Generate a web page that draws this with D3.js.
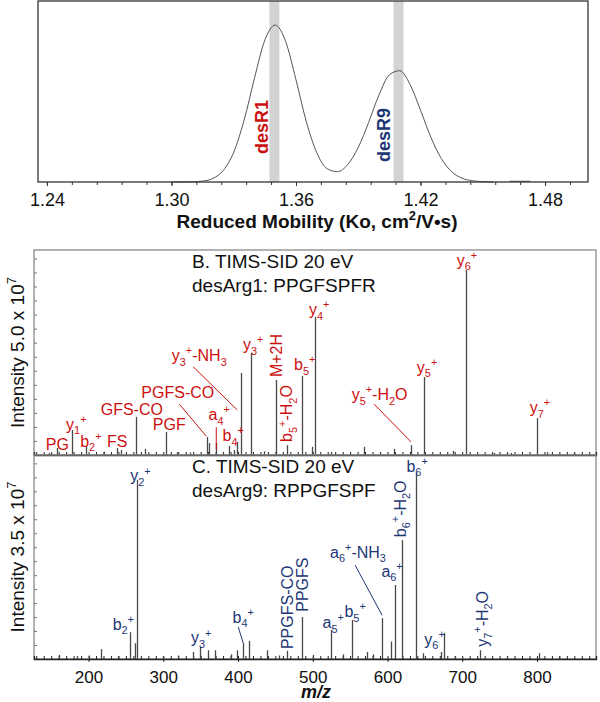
<!DOCTYPE html>
<html>
<head>
<meta charset="utf-8">
<script src="https://cdn.jsdelivr.net/npm/d3@7"></script>
<style>
  body { margin: 0; background: #fff; }
  svg { display: block; font-family: "Liberation Sans", Arial, sans-serif; }
</style>
</head>
<body>
<div id="chart"></div>
<script>
// ---- A: mobilogram (reduced mobility vs relative intensity) ----
const mobility = [1.300, 1.305, 1.310, 1.315, 1.320, 1.325, 1.330, 1.335, 1.340, 1.345, 1.350,
  1.355, 1.360, 1.365, 1.370, 1.375, 1.380, 1.385, 1.390, 1.395, 1.400, 1.405, 1.410,
  1.415, 1.420, 1.425, 1.430, 1.435, 1.440, 1.445, 1.450, 1.455];
const mobIntensity = [0, 0.02, 0.11, 0.5, 2.0, 6.4, 16.4, 34.1, 57.4, 78.4, 86.7,
  77.7, 56.5, 33.3, 16.2, 7.4, 5.7, 9.7, 19.1, 32.9, 48.1, 59.2, 61.5,
  53.8, 39.7, 24.7, 13.0, 5.7, 2.1, 0.7, 0.2, 0];
const blipMobility = [1.463, 1.473];
const blipIntensity = [0.4, 0.4];
const mobTicks = [1.24, 1.30, 1.36, 1.42, 1.48];
const bandCenters = [1.3496, 1.4094];
const bandNames = ["desR1", "desR9"];
// label anchor (bottom of rotated text) in data units
const bandLabelMob = [1.3432, 1.4022];
const bandLabelInt = [15.5, 11.0];

// ---- B: desArg1 spectrum (intensity x 10^7) ----
const mzB = [147, 158, 178, 197, 220, 238, 243, 263, 275, 303, 318, 336, 359, 361.5, 371, 388, 394, 399,
  404, 418, 435, 451, 466, 486, 499, 503, 524, 569, 590, 609, 632, 649, 688, 705, 742, 765, 800, 813, 850];
const intB = [0.05, 0.17, 0.61, 0.20, 0.08, 0.17, 0.12, 0.93, 0.15, 0.56, 0.07, 0.06, 0.44, 0.29, 0.29, 0.22, 0.12, 0.32,
  2.00, 2.49, 0.09, 1.83, 0.24, 1.93, 0.20, 3.37, 0.07, 0.20, 0.06, 0.15, 0.24, 1.90, 0.10, 4.51, 0.05, 0.05, 0.90, 0.07, 0.05];
// [text, m/z, intensity, rotated]
const labelsB = [
  ["PG", 158.3, 0.12, 0], ["y_1^+", 183.6, 0.61, 0], ["b_2^+", 203.1, 0.20, 0], ["FS", 238.5, 0.20, 0],
  ["GFS-CO", 257.9, 0.98, 0], ["PGF", 308.0, 0.61, 0], ["PGFS-CO", 319.4, 1.39, 0], ["a_4^+", 374.9, 0.85, 0],
  ["b_4^+", 393.6, 0.34, 0], ["y_3^+-NH_3", 348.1, 2.29, 0], ["y_3^+", 420.3, 2.56, 0], ["M+2H", 451.1, 1.90, 1],
  ["b_5^+-H_2O", 465.1, 0.32, 1], ["b_5^+", 489.2, 2.07, 0], ["y_4^+", 508.6, 3.41, 0], ["y_5^+-H_2O", 589.4, 1.34, 0],
  ["y_5^+", 652.9, 2.00, 0], ["y_6^+", 706.4, 4.61, 0], ["y_7^+", 804.0, 1.02, 0]
];
const leadersB = [[321.4, 1.24, 357.5, 0.46], [370.9, 0.68, 370.9, 0.12], [340.1, 2.15, 398.9, 1.10], [582.1, 1.24, 631.6, 0.32]];

// ---- C: desArg9 spectrum (intensity x 10^7) ----
const mzC = [161, 185, 200, 217, 240, 256, 262.5, 265, 300, 320, 340, 349.5, 360, 369.5, 390, 399, 407, 415, 439, 455,
  466, 486, 500, 525, 540, 553, 573, 580, 593, 605, 610, 619.5, 638, 648, 671, 676, 690, 724, 760, 803, 830];
const intC = [0.07, 0.05, 0.06, 0.17, 0.05, 0.46, 0.27, 3.07, 0.05, 0.06, 0.12, 0.21, 0.15, 0.15, 0.08, 0.15, 0.27, 0.31, 0.15, 0.06,
  0.14, 0.72, 0.07, 0.50, 0.08, 0.67, 0.12, 0.08, 0.70, 0.30, 1.27, 2.04, 3.19, 0.10, 0.12, 0.45, 0.05, 0.15, 0.05, 0.10, 0.05];
const labelsC = [
  ["y_2^+", 269.3, 3.05, 0], ["b_2^+", 246.5, 0.50, 0], ["y_3^+", 350.8, 0.27, 0], ["b_4^+", 407.0, 0.62, 0],
  ["PPGFS-CO", 465.8, 0.17, 1], ["PPGFS", 485.8, 0.81, 1], ["a_5^+", 527.3, 0.53, 0], ["b_5^+", 556.7, 0.72, 0],
  ["a_6^+-NH_3", 560.5, 1.74, 0], ["a_6^+", 606.1, 1.41, 0], ["b_6^+-H_2O", 616.8, 2.09, 1], ["b_6^+", 639.6, 3.21, 0],
  ["y_6^+", 663.0, 0.24, 0], ["y_7^+-H_2O", 726.5, 0.21, 1]
];
const leadersC = [[400.3, 0.55, 407.0, 0.27], [556.7, 1.61, 592.8, 0.75]];
const mzTicks = [200, 300, 400, 500, 600, 700, 800];

const RED = "#cc1010", NAVY = "#1d3676";

const svg = d3.select("#chart").append("svg").attr("width", 600).attr("height", 702);

// write "_x" as subscript and "^x" as superscript
function rich(text, str, fs) {
  const segs = [];
  for (let i = 0; i < str.length; i++) {
    let ch = str[i], kind = "n";
    if ((ch === "_" || ch === "^") && i + 1 < str.length) { kind = ch; ch = str[++i]; }
    if (segs.length && segs[segs.length - 1].kind === kind) segs[segs.length - 1].t += ch;
    else segs.push({kind: kind, t: ch});
  }
  let shift = 0;
  segs.forEach(s => {
    const target = s.kind === "_" ? 0.28 * fs : s.kind === "^" ? -0.42 * fs : 0;
    text.append("tspan")
      .attr("dy", target - shift)
      .style("font-size", (s.kind === "n" ? fs : fs * 0.68) + "px")
      .text(s.t);
    shift = target;
  });
  return text;
}

// ---------- panel A ----------
const xMob = d3.scaleLinear().domain([1.2357, 1.5007]).range([38, 588]);
const yMob = d3.scaleLinear().domain([0, 100]).range([182, 1]);

const gA = svg.append("g");
bandCenters.forEach(c => {
  gA.append("rect")
    .attr("x", xMob(c - 0.0024)).attr("y", yMob(100))
    .attr("width", xMob(c + 0.0024) - xMob(c - 0.0024))
    .attr("height", yMob(0) - yMob(100))
    .attr("fill", "#d3d3d3");
});

const mobLine = d3.line().x(d => xMob(d[0])).y(d => yMob(d[1])).curve(d3.curveMonotoneX);
gA.append("path").attr("d", mobLine(d3.zip(mobility, mobIntensity)))
  .attr("fill", "none").attr("stroke", "#555").attr("stroke-width", 1);
gA.append("path").attr("d", mobLine(d3.zip(blipMobility, blipIntensity)))
  .attr("fill", "none").attr("stroke", "#555").attr("stroke-width", 1);

bandNames.forEach((n, i) => {
  const x = xMob(bandLabelMob[i]), y = yMob(bandLabelInt[i]);
  gA.append("text")
    .attr("transform", "translate(" + (x + 6.5) + "," + y + ") rotate(-90)")
    .attr("fill", i === 0 ? RED : NAVY)
    .style("font-size", "18px").style("font-weight", "bold")
    .text(n);
});

gA.append("rect").attr("x", 38).attr("y", 1).attr("width", 550).attr("height", 181)
  .attr("fill", "none").attr("stroke", "#333").attr("stroke-width", 1.3);

const axA = gA.append("g").attr("transform", "translate(0,182)")
  .call(d3.axisBottom(xMob).tickValues(mobTicks).tickFormat(d3.format(".2f")).tickSize(4));
axA.select(".domain").remove();
axA.selectAll("text").attr("y", 24).attr("dy", 0).style("font-size", "18px").attr("fill", "#111")
  .style("font-family", "Liberation Sans, Arial, sans-serif");
axA.selectAll("line").attr("stroke", "#333");
const axAm = gA.append("g").attr("transform", "translate(0,182)")
  .call(d3.axisBottom(xMob).tickValues(d3.range(0, 22).map(i => 1.24 + i * 0.012)).tickFormat("").tickSize(3));
axAm.select(".domain").remove();
axAm.selectAll("line").attr("stroke", "#333");

rich(gA.append("text").attr("x", 317).attr("y", 228).attr("text-anchor", "middle")
  .style("font-size", "19px").style("font-weight", "bold").attr("fill", "#111"),
  "Reduced Mobility (Ko, cm^2/V\u2022s)", 19);

// ---------- panels B and C ----------
const xMz = d3.scaleLinear().domain([127, 879]).range([34, 596]);

function spectrum(top, bottom, full, mz, inten, labels, leaders, color, title1, title2, ylab, showLabels) {
  const y = d3.scaleLinear().domain([0, full]).range([bottom, top]);
  const g = svg.append("g");

  g.append("rect").attr("x", 34).attr("y", top).attr("width", 562).attr("height", bottom - top)
    .attr("fill", "none").attr("stroke", "#8a8a8a").attr("stroke-width", 1.3);

  // left minor ticks
  const axY = g.append("g").attr("transform", "translate(34,0)")
    .call(d3.axisLeft(y).tickValues(d3.range(0, full, full / 14.6)).tickFormat("").tickSize(-3));
  axY.select(".domain").remove();
  axY.selectAll("line").attr("stroke", "#777");

  // bottom axis
  const axX = g.append("g").attr("transform", "translate(0," + bottom + ")")
    .call(d3.axisBottom(xMz).tickValues(d3.range(130, 880, 10)).tickFormat("").tickSize(-3));
  axX.select(".domain").attr("stroke", "#222").attr("stroke-width", 1.3);
  axX.selectAll("line").attr("stroke", "#222");
  if (showLabels) {
    const axL = g.append("g").attr("transform", "translate(0," + bottom + ")")
      .call(d3.axisBottom(xMz).tickValues(mzTicks).tickSize(3));
    axL.select(".domain").remove();
    axL.selectAll("line").attr("stroke", "#222");
    axL.selectAll("text").attr("y", 24).attr("dy", 0).style("font-size", "17px").attr("fill", "#111")
      .style("font-family", "Liberation Sans, Arial, sans-serif");
  }

  // peaks
  g.selectAll("line.peak").data(d3.zip(mz, inten)).enter().append("line")
    .attr("class", "peak")
    .attr("x1", d => Math.round(xMz(d[0])) + 0.5).attr("x2", d => Math.round(xMz(d[0])) + 0.5)
    .attr("y1", y(0)).attr("y2", d => y(d[1]))
    .attr("stroke", "#484848").attr("stroke-width", 1.3);

  leaders.forEach(l => {
    g.append("line").attr("x1", xMz(l[0])).attr("y1", y(l[1])).attr("x2", xMz(l[2])).attr("y2", y(l[3]))
      .attr("stroke", color).attr("stroke-width", 1);
  });

  labels.forEach(l => {
    const x = xMz(l[1]), yy = y(l[2]);
    const t = g.append("text").attr("fill", color).style("font-size", "16px");
    if (l[3]) t.attr("transform", "translate(" + (x + 5.8) + "," + yy + ") rotate(-90)");
    else t.attr("x", x).attr("y", yy).attr("text-anchor", "middle");
    rich(t, l[0], 16);
  });

  g.append("text").attr("x", 192).attr("y", top + 18).style("font-size", "19px").attr("fill", "#111").text(title1);
  g.append("text").attr("x", 192).attr("y", top + 42).style("font-size", "19px").attr("fill", "#111").text(title2);

  rich(g.append("text")
    .attr("transform", "translate(24," + ((top + bottom) / 2) + ") rotate(-90)")
    .attr("text-anchor", "middle").style("font-size", "19px").attr("fill", "#111"), ylab, 19);
}

spectrum(250, 455, 5.0, mzB, intB, labelsB, leadersB, RED,
  "B. TIMS-SID 20 eV", "desArg1: PPGFSPFR", "Intensity 5.0 x 10^7", false);
spectrum(455, 659, 3.5, mzC, intC, labelsC, leadersC, NAVY,
  "C. TIMS-SID 20 eV", "desArg9: RPPGFSPF", "Intensity 3.5 x 10^7", true);

svg.append("text").attr("x", 316).attr("y", 698).attr("text-anchor", "middle")
  .style("font-size", "18px").style("font-weight", "bold").style("font-style", "italic")
  .attr("fill", "#111").text("m/z");
</script>
</body>
</html>
